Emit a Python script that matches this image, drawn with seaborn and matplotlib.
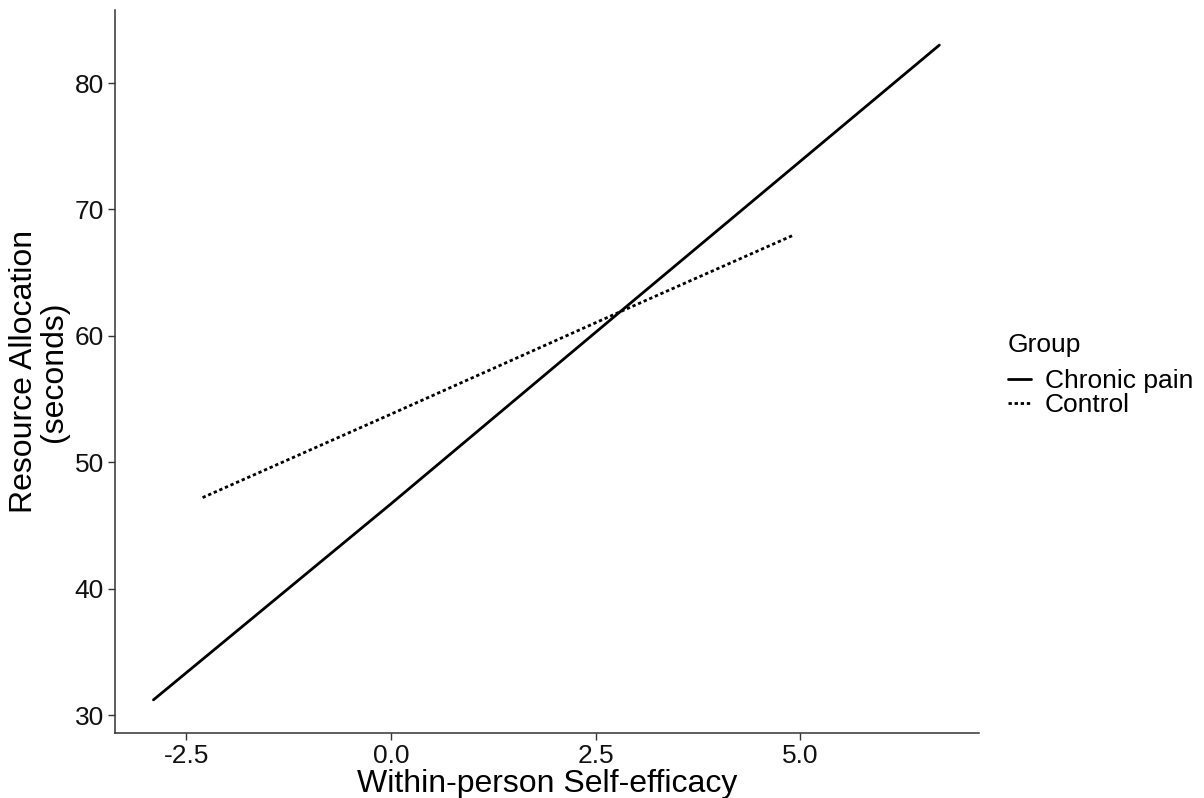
import numpy as np
import pandas as pd
import matplotlib
matplotlib.use("Agg")
import matplotlib.pyplot as plt
import seaborn as sns

# values
chronic_x = [-2.9, 0.0, 2.8, 6.7]
chronic_y = [31.2, 46.7, 61.9, 83.0]
control_x = [-2.3, 0.0, 2.8, 4.93]
control_y = [47.2, 53.8, 61.9, 68.0]
groups = ["Chronic pain", "Control"]

df = pd.DataFrame({
    "x": chronic_x + control_x,
    "y": chronic_y + control_y,
    "Group": [groups[0]] * len(chronic_x) + [groups[1]] * len(control_x),
})

sns.set_theme(style="white")
plt.rcParams["font.family"] = ["Liberation Sans", "DejaVu Sans"]

fig = plt.figure(figsize=(12.04, 7.98), dpi=100)
ax = fig.add_axes([0.0955, 0.0815, 0.718, 0.906])

sns.lineplot(
    data=df, x="x", y="y", style="Group",
    dashes={"Chronic pain": "", "Control": (1.2, 1.0)},
    color="black", linewidth=2, ax=ax, legend=True,
)

ax.set_xlim(-3.37, 7.19)
ax.set_ylim(28.58, 85.78)
ax.set_xticks([-2.5, 0.0, 2.5, 5.0])
ax.set_xticklabels(["-2.5", "0.0", "2.5", "5.0"])
ax.set_yticks([30, 40, 50, 60, 70, 80])

for s in ["top", "right"]:
    ax.spines[s].set_visible(False)
for s in ["left", "bottom"]:
    ax.spines[s].set_color("#333333")
    ax.spines[s].set_linewidth(1.1)

ax.tick_params(axis="both", which="both", length=5, width=1, color="#333333",
               labelsize=19, labelcolor="#111111", bottom=True, left=True, pad=3)

ax.set_xlabel("Within-person Self-efficacy", fontsize=23, labelpad=1,
              color="black")
ax.set_ylabel("Resource Allocation\n(seconds)", fontsize=23, labelpad=4,
              multialignment="center", color="black", linespacing=1.0)

handles, labels = ax.get_legend_handles_labels()
ax.get_legend().remove()
leg = fig.legend(handles, labels, title="Group", loc="center left",
                 bbox_to_anchor=(0.826, 0.53), frameon=False, borderpad=0,
                 fontsize=19, title_fontsize=19, handlelength=0.9,
                 handletextpad=0.5, labelspacing=0.0)
leg._legend_box.align = "left"
leg._legend_box.sep = 9
for t in leg.get_texts():
    t.set_color("black")
leg.get_title().set_color("black")

fig.savefig("out.png", dpi=100)
